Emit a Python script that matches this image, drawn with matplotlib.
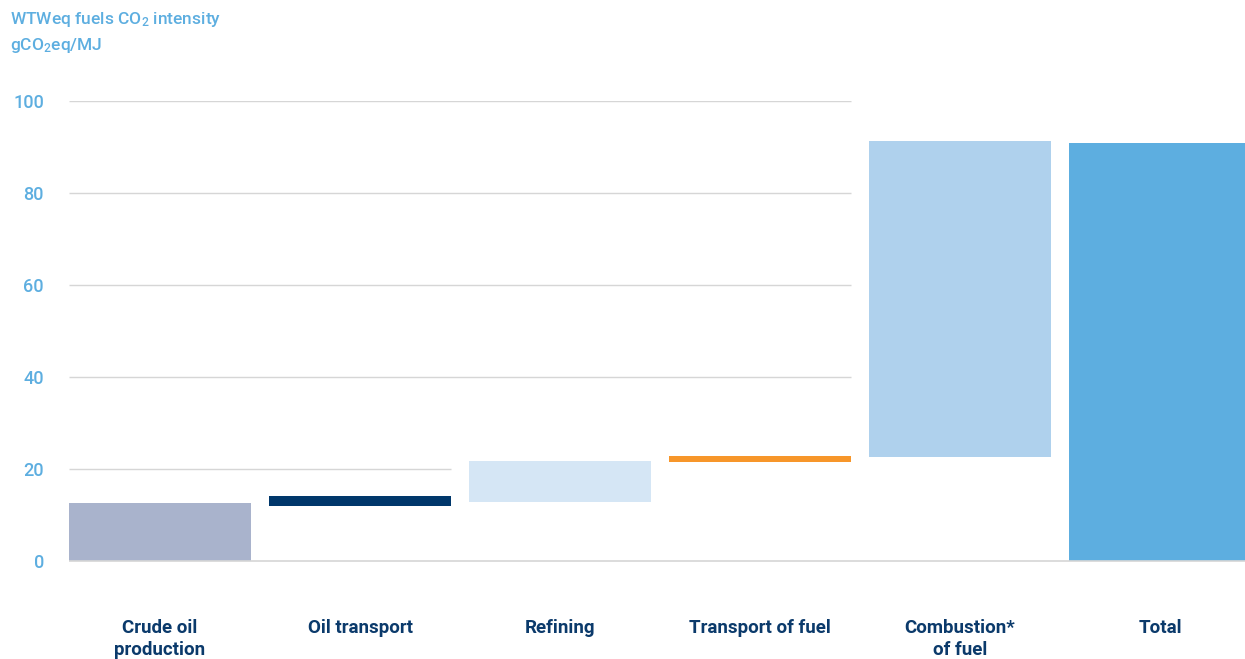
import matplotlib
matplotlib.use("Agg")
import matplotlib.pyplot as plt

plt.rcParams.update({
    "font.family": ["Roboto", "DejaVu Sans"],
    "mathtext.fontset": "custom",
    "mathtext.rm": "Roboto",
    "mathtext.default": "regular",
})

# data (gCO2eq/MJ), floating bars: bottom -> top
categories = ["Crude oil\nproduction", "Oil transport", "Refining",
              "Transport of fuel", "Combustion*\nof fuel", "Total"]
bottoms = [0, 12.0, 12.9, 21.5, 22.6, 0]
tops = [12.6, 14.1, 21.7, 22.8, 91.3, 90.9]
colors = ["#A9B3CC", "#00376B", "#D5E6F5", "#F7962A", "#AFD1ED", "#5DAEE0"]
yticks = [0, 20, 40, 60, 80, 100]

LBLUE = "#5DAEE0"
NAVY = "#0B3A6B"
GRID = "#D6D6D6"

W, H = 1245, 659
fig = plt.figure(figsize=(W / 100, H / 100), dpi=100)
ax = fig.add_axes([69 / W, (H - 561) / H, (W - 69) / W, 460 / H])

x = list(range(len(categories)))
heights = [t - b for t, b in zip(tops, bottoms)]
ax.bar(x, heights, bottom=bottoms, width=0.91, color=colors, zorder=3)

xmin, xmax = -0.455, 5.425
ax.set_xlim(xmin, xmax)
ax.set_ylim(0, 100)

# gridlines only over the left part of the chart
ax.hlines([40, 60, 80, 100], xmin, 3.455, color=GRID, lw=1, zorder=1)
ax.hlines(20, xmin, 1.455, color=GRID, lw=1, zorder=1)
ax.hlines(0, xmin, xmax, color=GRID, lw=1.2, zorder=4, clip_on=False)

for s in ax.spines.values():
    s.set_visible(False)

ax.set_yticks(yticks)
ax.set_yticklabels([str(v) for v in yticks], fontweight="medium")
ax.tick_params(axis="y", length=0, pad=18, labelsize=13, labelcolor=LBLUE)
ax.set_xticks(x)
ax.set_xticklabels(categories, fontweight="bold", color=NAVY, fontsize=13.5,
                   linespacing=1.25)
ax.tick_params(axis="x", length=0, pad=42)

fig.text(10 / W, 1 - 10 / H, "WTWeq fuels CO$_2$ intensity\ngCO$_2$eq/MJ",
         ha="left", va="top", color=LBLUE, fontsize=12.5, linespacing=1.5,
         fontweight="medium")

fig.savefig("out.png", dpi=100)
